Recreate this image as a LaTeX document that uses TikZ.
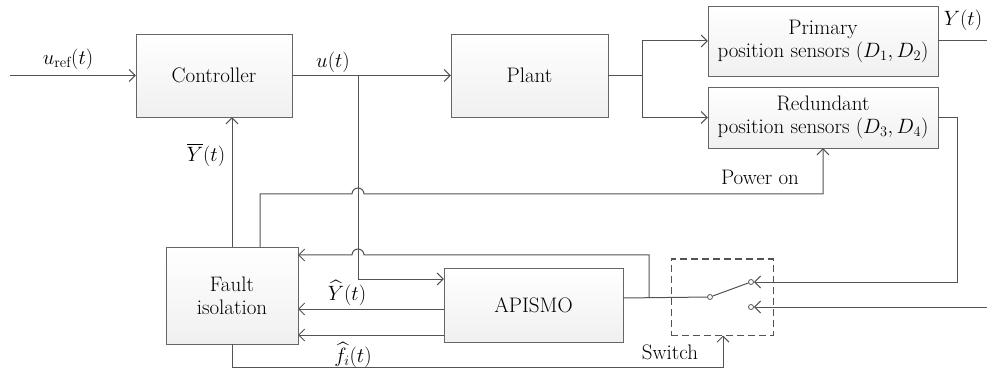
\documentclass[tikz,border=0pt]{standalone}
\usepackage{amsmath,amssymb}
\usetikzlibrary{arrows.meta,calc,positioning}

\begin{document}
\begin{tikzpicture}[
    x=1pt, y=-1pt,
    font=\fontsize{21}{23}\selectfont,
    block/.style={draw=gray!80!black, top color=white, bottom color=gray!12,
                  align=center, inner sep=0pt},
    wire/.style={draw=gray!65!black, line width=1pt},
    sig/.style={wire, -{Straight Barb[length=6pt,width=12pt]}},
    contact/.style={circle, draw=gray!65!black, fill=white, line width=0.8pt,
                    inner sep=0pt, minimum size=5pt},
  ]
  \useasboundingbox (0,0) rectangle (987,371);

  % ---- blocks ----------------------------------------------------------
  \node[block, minimum width=156pt, minimum height=83pt] (ctrl) at (214,75.5) {Controller};
  \node[block, minimum width=157pt, minimum height=83pt] (plant) at (529.5,75.5) {Plant};
  \node[block, minimum width=230pt, minimum height=70pt] (prim) at (823,41)
        {Primary\\position sensors $(D_1,D_2)$};
  \node[block, minimum width=230pt, minimum height=61pt] (red) at (823,117.5)
        {Redundant\\position sensors $(D_3,D_4)$};
  \node[block, minimum width=132pt, minimum height=97pt] (fault) at (232,295.5)
        {Fault\\isolation};
  \node[block, minimum width=179pt, minimum height=74pt] (apismo) at (533.5,305) {APISMO};

  % ---- switch ----------------------------------------------------------
  \node[draw=gray!65!black, dash pattern=on 7pt off 4pt, line width=1pt,
        minimum width=102pt, minimum height=76pt] (sw) at (722,297) {};
  \node[contact] (pivot) at (710,297) {};
  \node[contact] (cA) at (751,282) {};
  \node[contact] (cB) at (751,307) {};
  \draw[wire] (pivot) -- (cA);

  % ---- named points ----------------------------------------------------
  \coordinate (uin) at (10,75.5);
  \coordinate (ub) at (358,75.5);
  \coordinate (pb) at (642,75.5);
  \coordinate (yout) at (987,41);
  \coordinate (rr) at (957,117.5);
  \coordinate (ext) at (987,307);
  \coordinate (pw) at (260,194);
  \coordinate (ua) at (358,279);
  \coordinate (yh) at (298,309);
  \coordinate (fh) at (298,335);
  \coordinate (ab) at (649,298);
  \coordinate (fb) at (298,255);
  \coordinate (sc) at (723,367);

  % ---- forward path ----------------------------------------------------
  \draw[sig] (uin) -- (ctrl.west);
  \draw[sig] (ctrl.east) -- (plant.west);
  \draw[wire] (plant.east) -- (pb);
  \draw[sig] (pb) |- (prim.west);
  \draw[sig] (pb) |- (red.west);
  \draw[wire] (prim.east) -- (yout);

  % ---- sensor lines to the switch --------------------------------------
  \draw[sig] (red.east) -- (rr) |- (cA);
  \draw[sig] (ext) -- (cB);

  % ---- u(t) into the observer ------------------------------------------
  \draw[sig] (ub) |- (apismo.west |- ua);

  % ---- feedback and power on -------------------------------------------
  \draw[sig] (fault.north) -- (fault.north |- ctrl.south);
  \draw[sig] (fault.north -| pw) |- (352,194)
        arc[start angle=180, end angle=0, radius=6pt] -| (red.south);

  % ---- observer outputs ------------------------------------------------
  \draw[sig] (apismo.west |- yh) -- (yh);
  \draw[sig] (apismo.west |- fh) -- (fh);
  \draw[wire] (apismo.east |- ab) -- (pivot);
  \draw[sig] (ab) |- (364,255)
        arc[start angle=0, end angle=180, radius=6pt] -- (fb);

  % ---- switch command --------------------------------------------------
  \draw[sig] (fault.south) |- (sc) -- (sw.south -| sc);

  % ---- labels ----------------------------------------------------------
  \node at (68,59) {$u_{\text{ref}}(t)$};
  \node at (333,62) {$u(t)$};
  \node at (963,20) {$Y(t)$};
  \node at (206,155) {$\overline{Y}(t)$};
  \node at (760,177) {Power on};
  \node at (347,293) {$\widehat{Y}(t)$};
  \node at (353,355) {$\widehat{f}_i(t)$};
  \node at (670,352) {Switch};

\end{tikzpicture}
\end{document}
